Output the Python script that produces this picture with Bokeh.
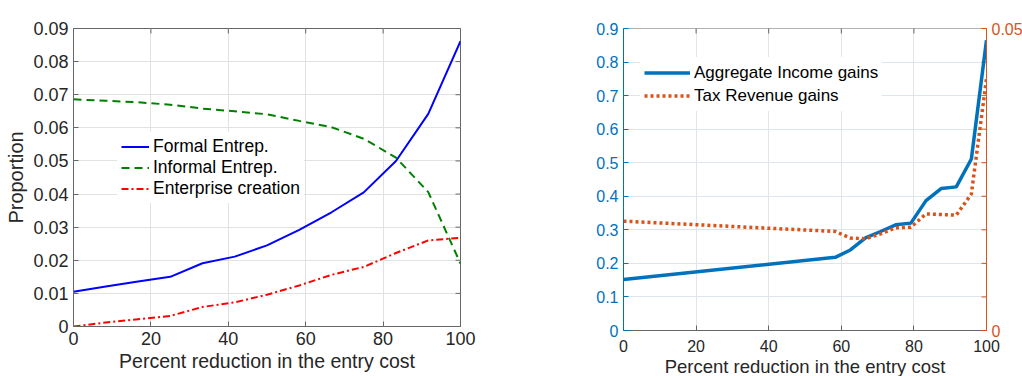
from bokeh.plotting import figure
from bokeh.layouts import row
from bokeh.models import (Range1d, LinearAxis, FixedTicker, Legend, LegendItem)
from bokeh.embed import file_html
from bokeh.resources import INLINE

# ---------------- data ----------------
X1 = [0, 8.33, 16.67, 25, 33.33, 41.67, 50, 58.33, 66.67, 75, 83.33, 91.67, 100]
formal = [0.0105, 0.0121, 0.0136, 0.0150, 0.0191, 0.0211, 0.0245, 0.0292, 0.0345, 0.0405, 0.0500, 0.0642, 0.0862]
informal = [0.0686, 0.0682, 0.0677, 0.0670, 0.0658, 0.0650, 0.0641, 0.0621, 0.0602, 0.0567, 0.0510, 0.0406, 0.0190]
enterprise = [0.0, 0.0012, 0.0022, 0.0032, 0.0059, 0.0073, 0.0096, 0.0124, 0.0156, 0.0180, 0.0222, 0.0260, 0.0268]

X2 = [0, 58.33, 62.5, 66.67, 70.83, 75, 79.17, 83.33, 87.5, 91.67, 95.83, 100]
income = [0.152, 0.218, 0.240, 0.276, 0.295, 0.315, 0.320, 0.387, 0.423, 0.428, 0.511, 0.865]
tax = [0.0181, 0.0164, 0.0153, 0.0152, 0.0160, 0.0170, 0.0171, 0.0193, 0.0192, 0.0191, 0.0226, 0.0417]

XTICKS = [0, 20, 40, 60, 80, 100]
YTICKS1 = [0, 0.01, 0.02, 0.03, 0.04, 0.05, 0.06, 0.07, 0.08, 0.09]
YLABELS1 = ["0", "0.01", "0.02", "0.03", "0.04", "0.05", "0.06", "0.07", "0.08", "0.09"]
YTICKS2 = [0, 0.1, 0.2, 0.3, 0.4, 0.5, 0.6, 0.7, 0.8, 0.9]
YLABELS2 = ["0", "0.1", "0.2", "0.3", "0.4", "0.5", "0.6", "0.7", "0.8", "0.9"]
RTICKS = [0, 0.05]
RLABELS = ["0", "0.05"]

FONT = "Liberation Sans"
TXT = "#262626"
AX = "#666666"


def style_axis(ax, color=TXT, line=AX, size="18px"):
    ax.axis_line_color = line
    ax.major_tick_line_color = line
    ax.major_tick_in = 5
    ax.major_tick_out = 0
    ax.minor_tick_line_color = None
    ax.major_label_text_font = FONT
    ax.major_label_text_font_size = size
    ax.major_label_text_color = color
    ax.axis_label_text_font = FONT
    ax.axis_label_text_font_style = "normal"
    ax.axis_label_text_color = TXT


# ---------------- left panel ----------------
p1 = figure(width=526, height=376, frame_width=387, frame_height=298,
            x_range=Range1d(0, 100), y_range=Range1d(0, 0.09),
            output_backend="svg", toolbar_location=None,
            min_border_left=73, min_border_right=66, min_border_top=22, min_border_bottom=56)
p1.background_fill_color = "white"
p1.border_fill_color = "white"
p1.outline_line_color = AX
p1.xgrid.grid_line_color = "#e2e2e2"
p1.ygrid.grid_line_color = "#e2e2e2"
p1.xaxis.ticker = FixedTicker(ticks=XTICKS)
p1.yaxis.ticker = FixedTicker(ticks=YTICKS1)
p1.yaxis.major_label_overrides = dict(zip(YTICKS1, YLABELS1))
for ax in p1.xaxis + p1.yaxis:
    style_axis(ax)
p1.xaxis.axis_label = "Percent reduction in the entry cost"
p1.xaxis.axis_label_text_font_size = "19.5px"
p1.xaxis.major_label_standoff = 5
p1.xaxis.axis_label_standoff = 2
p1.yaxis.axis_label = "Proportion"
p1.yaxis.axis_label_text_font_size = "20px"
p1.yaxis.major_label_standoff = 5
p1.yaxis.axis_label_standoff = 3

# inner tick marks on the top and right edges of the box (clipped to frame)
p1.scatter(XTICKS, [0.09] * len(XTICKS), marker="dash", angle=1.5708, size=10,
           line_color=AX, line_width=1)
p1.scatter([100] * len(YTICKS1), YTICKS1, marker="dash", size=10,
           line_color=AX, line_width=1)

r_f = p1.line(X1, formal, line_color="#0000ff", line_width=2)
r_i = p1.line(X1, informal, line_color="#008000", line_width=2, line_dash="8 5")
r_e = p1.line(X1, enterprise, line_color="#ff0000", line_width=2, line_dash="7 3 2 3")

leg1 = Legend(items=[LegendItem(label="Formal Entrep.", renderers=[r_f]),
                     LegendItem(label="Informal Entrep.", renderers=[r_i]),
                     LegendItem(label="Enterprise creation", renderers=[r_e])],
              location=(44, 123), glyph_width=28, glyph_height=21, label_height=21,
              label_standoff=4, spacing=0, padding=4, margin=0,
              label_text_font=FONT, label_text_font_size="17.5px", label_text_color="#000000",
              border_line_alpha=0, background_fill_color="white", background_fill_alpha=1)
p1.add_layout(leg1, "center")

# ---------------- right panel ----------------
BLUE = "#0072bd"
ORANGE = "#d95319"
p2 = figure(width=496, height=376, frame_width=363, frame_height=302,
            x_range=Range1d(0, 100), y_range=Range1d(0, 0.9),
            output_backend="svg", toolbar_location=None,
            min_border_left=97, min_border_right=36, min_border_top=28, min_border_bottom=46)
p2.extra_y_ranges = {"r": Range1d(0, 0.05)}
p2.background_fill_color = "white"
p2.border_fill_color = "white"
p2.outline_line_color = None
p2.xgrid.grid_line_color = "#dfe5ec"
p2.ygrid.grid_line_color = "#dfe5ec"
p2.xaxis.ticker = FixedTicker(ticks=XTICKS)
p2.yaxis.ticker = FixedTicker(ticks=YTICKS2)
p2.yaxis.major_label_overrides = dict(zip(YTICKS2, YLABELS2))
for ax in p2.xaxis:
    style_axis(ax, size="16px")
for ax in p2.yaxis:
    style_axis(ax, color=BLUE, line=BLUE, size="16px")
p2.xaxis.axis_label = "Percent reduction in the entry cost"
p2.xaxis.axis_label_text_font_size = "18.5px"
p2.xaxis.major_label_standoff = 9
p2.xaxis.axis_label_standoff = 1
p2.yaxis.major_label_standoff = 5

right2 = LinearAxis(y_range_name="r", ticker=FixedTicker(ticks=RTICKS),
                    major_label_overrides=dict(zip(RTICKS, RLABELS)))
style_axis(right2, color=ORANGE, line=ORANGE, size="16px")
right2.major_label_standoff = 5
p2.add_layout(right2, "right")

# inner tick marks: top edge (gray) and right edge (orange)
p2.scatter(XTICKS, [0.9] * len(XTICKS), marker="dash", angle=1.5708, size=10,
           line_color=AX, line_width=1)
p2.scatter([100] * len(YTICKS2), YTICKS2, marker="dash", size=10,
           line_color=ORANGE, line_width=1)
p2.line([0, 100], [0.9, 0.9], line_color=AX, line_width=1)

r_inc = p2.line(X2, income, line_color=BLUE, line_width=3.5)
r_tax = p2.line(X2, tax, line_color=ORANGE, line_width=3.5, line_dash="3 3", y_range_name="r")

leg2 = Legend(items=[LegendItem(label="Aggregate Income gains", renderers=[r_inc]),
                     LegendItem(label="Tax Revenue gains", renderers=[r_tax])],
              location=(17, 219), glyph_width=46, glyph_height=23, label_height=23,
              label_standoff=4, spacing=0, padding=4, margin=0,
              label_text_font=FONT, label_text_font_size="17px", label_text_color="#000000",
              border_line_alpha=0, background_fill_color="white", background_fill_alpha=1)
p2.add_layout(leg2, "center")

layout = row(p1, p2)
html = file_html(layout, INLINE)
html = html.replace("<head>", "<head><style>html,body{overflow:hidden;margin:0;}</style>", 1)
open("out.html", "w").write(html)
